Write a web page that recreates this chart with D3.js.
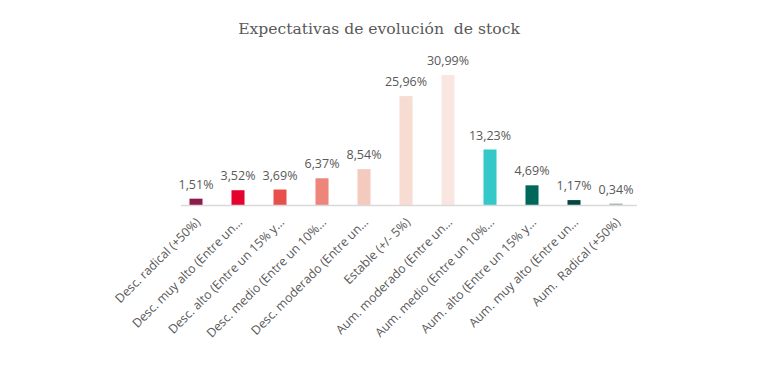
<!DOCTYPE html>
<html><head><meta charset="utf-8">
<script src="https://cdn.jsdelivr.net/npm/d3@7"></script>
<style>body{margin:0;background:#fff}svg{display:block}</style>
</head><body><svg id="c" width="768" height="366"></svg>
<script>
const categories = ["Desc. radical (+50%)","Desc. muy alto (Entre un…","Desc. alto (Entre un 15% y…","Desc. medio (Entre un 10%…","Desc. moderado (Entre un…","Estable (+/- 5%)","Aum. moderado (Entre un…","Aum. medio (Entre un 10%…","Aum. alto (Entre un 15% y…","Aum. muy alto (Entre un…","Aum.  Radical (+50%)"];
const values = [1.51,3.52,3.69,6.37,8.54,25.96,30.99,13.23,4.69,1.17,0.34];
const colors = ["#8E1B4C","#E4032E","#E8514B","#EE857A","#F3CABD","#F7DCD2","#FAE6E0","#34C8C8","#00675C","#024842","#9DB3AE"];
const title = "Expectativas de evolución  de stock";

const svg = d3.select("#c");
const x = d3.scaleBand().domain(categories).range([175,637]).paddingInner(0.69).paddingOuter(0.345);
const y = d3.scaleLinear().domain([0,30.99]).range([205,75]);
const fmt = v => v.toFixed(2).replace(".",",") + "%";

svg.append("text").attr("x",379).attr("y",34).attr("text-anchor","middle")
  .style("white-space","pre")
  .attr("font-family","'DejaVu Serif', Georgia, serif").attr("font-size",15.6).attr("fill","#595959").text(title);

svg.selectAll("rect.bar").data(values).join("rect").attr("class","bar")
  .attr("x",(d,i)=>x(categories[i])).attr("width",x.bandwidth())
  .attr("y",d=>y(d)).attr("height",d=>y(0)-y(d)).attr("fill",(d,i)=>colors[i]);

svg.selectAll("text.val").data(values).join("text").attr("class","val")
  .attr("x",(d,i)=>x(categories[i])+x.bandwidth()/2).attr("y",d=>y(d)-10)
  .attr("text-anchor","middle").attr("font-family","'Open Sans', sans-serif").attr("font-size",12.5)
  .attr("fill","#595959").text(fmt);

const ax = svg.append("g").attr("transform","translate(0,205)")
  .call(d3.axisBottom(x).tickSize(0).tickPadding(0));
ax.select(".domain").attr("stroke","#D9D9D9").attr("stroke-width",1.5).attr("d","M181,0.5H637");
ax.selectAll(".tick text").attr("font-family","'Open Sans', sans-serif").attr("font-size",12.3)
  .style("white-space","pre")
  .attr("fill","#595959").attr("text-anchor","end").attr("dy",0)
  .attr("transform","translate(5,18) rotate(-45)");
</script></body></html>
